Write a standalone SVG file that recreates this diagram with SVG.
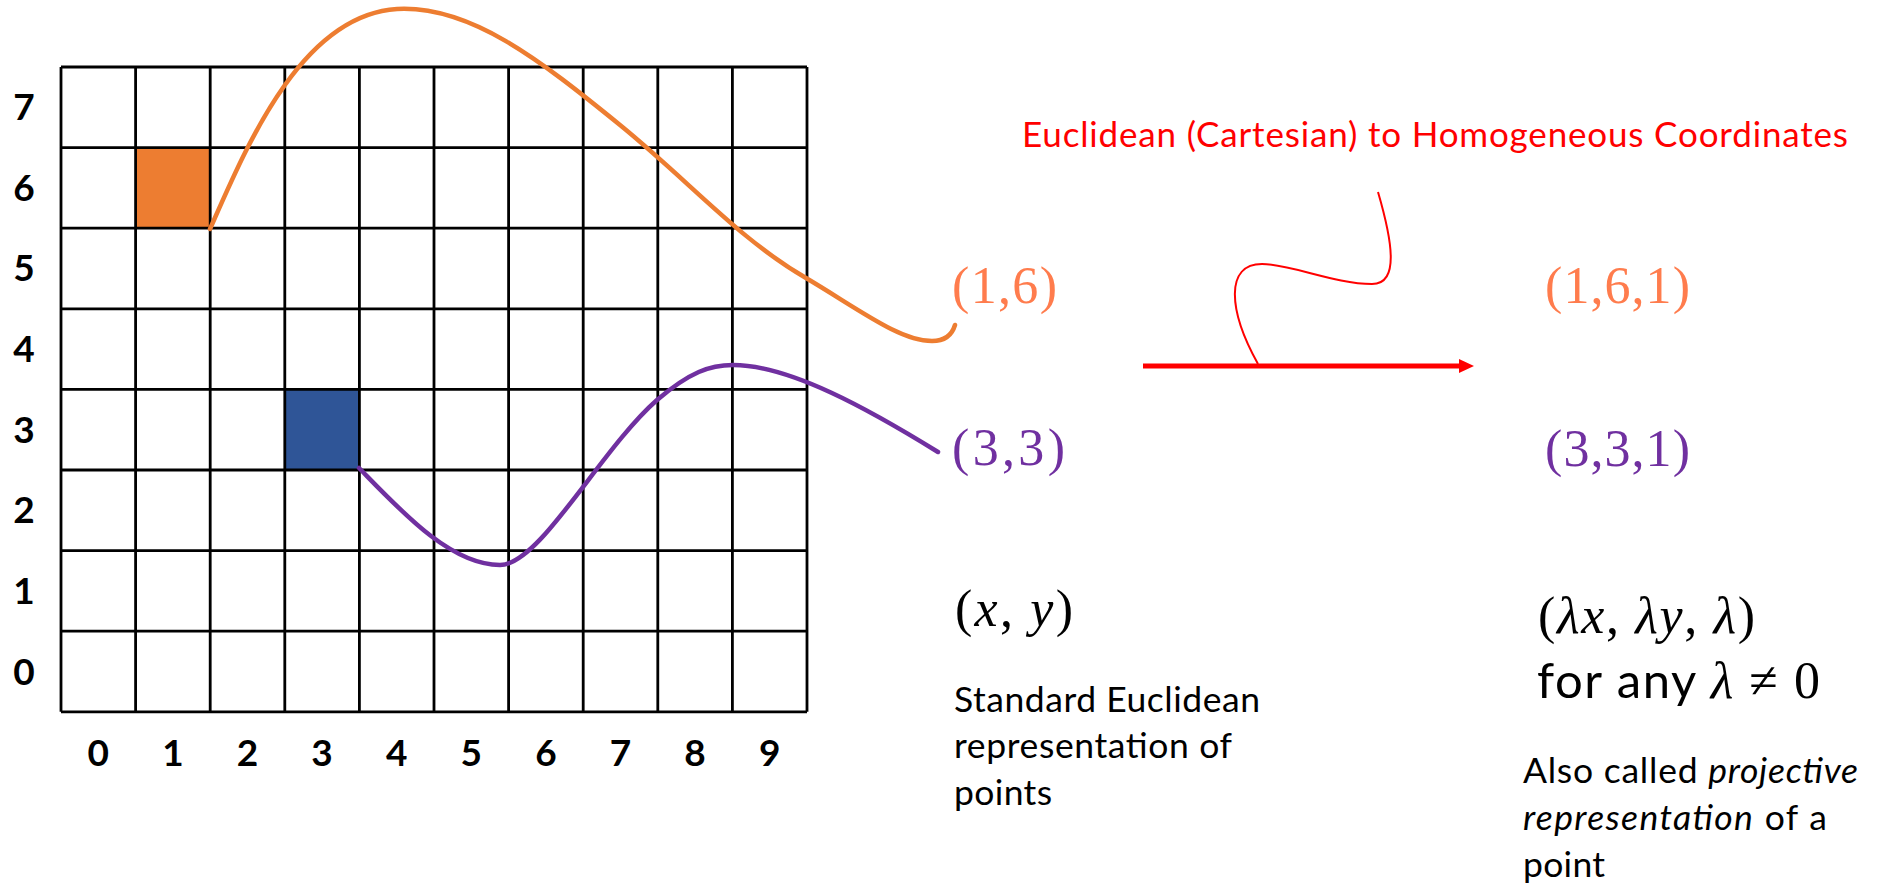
<svg xmlns="http://www.w3.org/2000/svg" width="1877" height="884" viewBox="0 0 1877 884">
<defs>
<style>
.lbl{font-family:Lato,"Liberation Sans",sans-serif;font-weight:bold;font-size:37px;fill:#000;text-anchor:middle}
.math{font-family:"Liberation Serif",serif;font-size:52px}
.body{font-family:Lato,"Liberation Sans",sans-serif;font-size:35.5px;fill:#000}
.grid{fill:none;stroke:#000;stroke-width:2.8}
.curve{fill:none;stroke-width:4.5;stroke-linecap:round}
</style>
<marker id="ah" viewBox="0 0 15 14" refX="1" refY="7" markerWidth="15" markerHeight="14" markerUnits="userSpaceOnUse" orient="auto">
<path d="M0,0 L15,7 L0,14 Z" fill="#FF0000"/>
</marker>
</defs>
<rect width="1877" height="884" fill="#fff"/>

<g id="cells">
<rect x="135.6" y="147.6" width="74.6" height="80.6" fill="#ED7D31"/>
<rect x="284.8" y="389.4" width="74.6" height="80.6" fill="#2F5597"/>
</g>

<g id="grid">
<path class="grid" d="M61,67V711.8M135.6,67V711.8M210.2,67V711.8M284.8,67V711.8M359.4,67V711.8M434,67V711.8M508.6,67V711.8M583.2,67V711.8M657.8,67V711.8M732.4,67V711.8M807,67V711.8
M61,67H807M61,147.6H807M61,228.2H807M61,308.8H807M61,389.4H807M61,470H807M61,550.6H807M61,631.2H807M61,711.8H807"/>
</g>

<g id="row-labels">
<text class="lbl" x="24" y="120">7</text>
<text class="lbl" x="24" y="201">6</text>
<text class="lbl" x="24" y="281">5</text>
<text class="lbl" x="24" y="362">4</text>
<text class="lbl" x="24" y="443">3</text>
<text class="lbl" x="24" y="523">2</text>
<text class="lbl" x="24" y="604">1</text>
<text class="lbl" x="24" y="685">0</text>
</g>

<g id="col-labels">
<text class="lbl" x="98.3" y="766">0</text>
<text class="lbl" x="172.9" y="766">1</text>
<text class="lbl" x="247.5" y="766">2</text>
<text class="lbl" x="322.1" y="766">3</text>
<text class="lbl" x="396.7" y="766">4</text>
<text class="lbl" x="471.3" y="766">5</text>
<text class="lbl" x="545.9" y="766">6</text>
<text class="lbl" x="620.5" y="766">7</text>
<text class="lbl" x="695.1" y="766">8</text>
<text class="lbl" x="769.7" y="766">9</text>
</g>

<g id="connectors">
<path class="curve" stroke="#ED7D31" d="M210,229 C245,150 300,15 397,9 C470,5 540,60 620,125 C690,182 740,240 806,278 C860,310 900,341 932,341 C945,341 952,335 955,325"/>
<path class="curve" stroke="#7030A0" d="M359,468 C400,510 450,565 500,565 C540,565 600,450 657,400 C690,372 710,365 733,365 C790,365 870,410 938,452"/>
<path fill="none" stroke="#FF0000" stroke-width="2" d="M1378,192 C1392,240 1400,284 1372,284 C1335,284 1290,264 1262,264 C1225,264 1228,310 1258,364"/>
<line x1="1143" y1="366" x2="1460" y2="366" stroke="#FF0000" stroke-width="5" marker-end="url(#ah)"/>
</g>

<g id="title">
<text x="1022" y="147" font-family="Lato, 'Liberation Sans', sans-serif" font-size="35" fill="#FF0000" textLength="826">Euclidean (Cartesian) to Homogeneous Coordinates</text>
</g>

<g id="euclid-points">
<text class="math" x="952" y="303" fill="#FF7C4D" textLength="105">(1,6)</text>
<text class="math" x="952" y="465" fill="#7030A0" textLength="113">(3,3)</text>
</g>

<g id="homog-points">
<text class="math" x="1545" y="303" fill="#FF7C4D" textLength="145">(1,6,1)</text>
<text class="math" x="1545" y="466" fill="#7030A0" textLength="145">(3,3,1)</text>
</g>

<g id="euclid-desc">
<text class="math" x="955" y="626" fill="#000" textLength="118">(<tspan font-style="italic">x</tspan>, <tspan font-style="italic">y</tspan>)</text>
<text class="body" x="954" y="712" textLength="306">Standard Euclidean</text>
<text class="body" x="954" y="758" textLength="278">representation of</text>
<text class="body" x="954" y="805" textLength="98">points</text>
</g>

<g id="homog-desc">
<text class="math" x="1538" y="633" fill="#000" textLength="217">(<tspan font-style="italic">λx</tspan>, <tspan font-style="italic">λy</tspan>, <tspan font-style="italic">λ</tspan>)</text>
<text x="1537" y="698" fill="#000" textLength="283"><tspan font-family="Lato, 'Liberation Sans', sans-serif" font-size="49">for any </tspan><tspan font-family="'Liberation Serif', serif" font-size="52"><tspan font-style="italic">λ</tspan> ≠ 0</tspan></text>
<text class="body" x="1523" y="783" textLength="335">Also called <tspan font-style="italic">projective</tspan></text>
<text class="body" x="1523" y="830" textLength="304"><tspan font-style="italic">representation</tspan> of a</text>
<text class="body" x="1523" y="877" textLength="82">point</text>
</g>
</svg>
